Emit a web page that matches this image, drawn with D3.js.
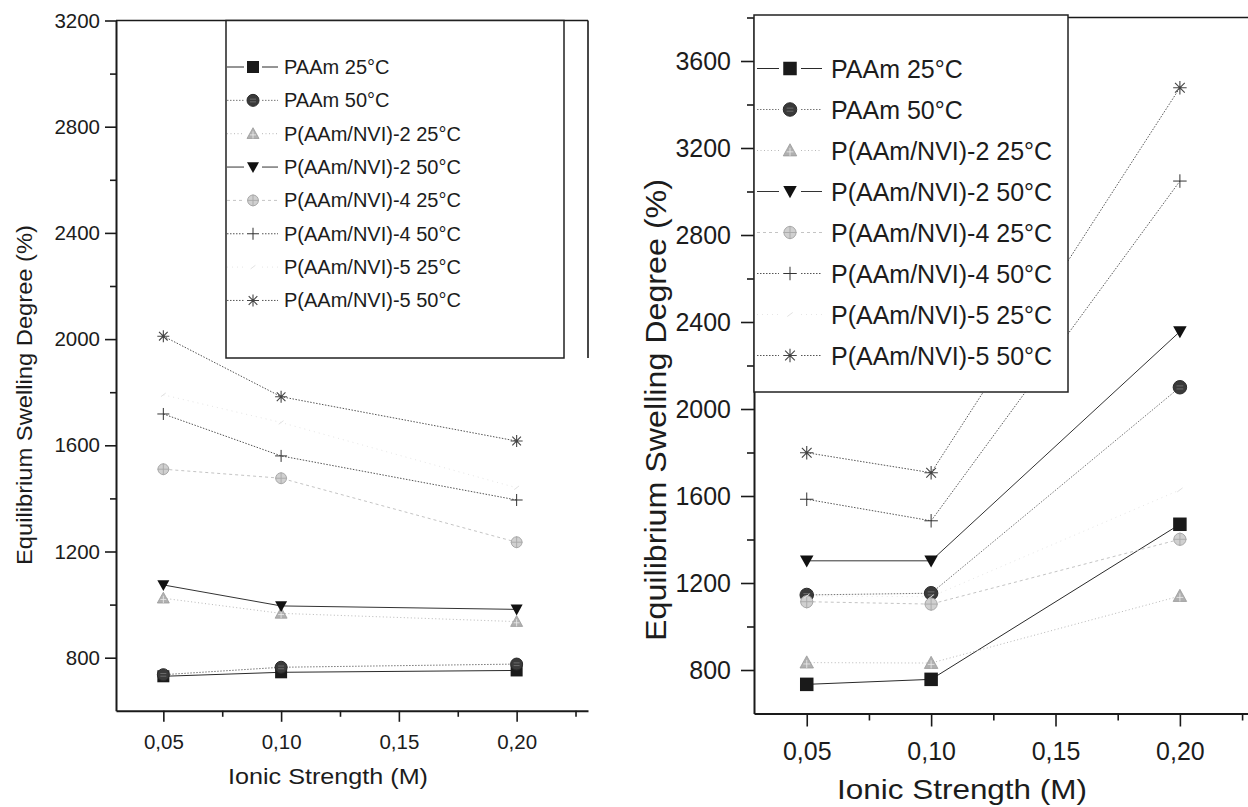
<!DOCTYPE html>
<html><head><meta charset="utf-8">
<script src="https://cdn.jsdelivr.net/npm/d3@7"></script>
<style>
body{margin:0;background:#fff}
svg{display:block}
text{font-family:"Liberation Sans",Arial,Helvetica,sans-serif;fill:#1c1c1c}
</style>
</head><body>
<svg id="chart" width="1248" height="807"></svg>
<script>
// ---------- DATA ----------
const ionicStrength = [0.05, 0.10, 0.20];
const seriesNames = ["PAAm 25°C","PAAm 50°C","P(AAm/NVI)-2 25°C","P(AAm/NVI)-2 50°C",
  "P(AAm/NVI)-4 25°C","P(AAm/NVI)-4 50°C","P(AAm/NVI)-5 25°C","P(AAm/NVI)-5 50°C"];

// left panel
const leftPAAm25 = [730, 745, 752];
const leftPAAm50 = [736, 764, 776];
const leftNVI2_25 = [1024, 967, 936];
const leftNVI2_50 = [1074, 995, 982];
const leftNVI4_25 = [1510, 1476, 1235];
const leftNVI4_50 = [1718, 1560, 1394];
const leftNVI5_25 = [1790, 1686, 1440];
const leftNVI5_50 = [2011, 1783, 1616];

// right panel
const rightPAAm25 = [734, 757, 1470];
const rightPAAm50 = [1145, 1153, 2100];
const rightNVI2_25 = [834, 832, 1140];
const rightNVI2_50 = [1302, 1302, 2356];
const rightNVI4_25 = [1114, 1103, 1401];
const rightNVI4_50 = [1585, 1486, 3048];
const rightNVI5_25 = [1140, 1137, 1628];
const rightNVI5_50 = [1799, 1707, 3477];

const xTickValues = [0.05, 0.10, 0.15, 0.20];
const xTickLabels = ["0,05", "0,10", "0,15", "0,20"];
const xMinorTicks = [0.075, 0.125, 0.175, 0.225];
const leftYTicks = [800, 1200, 1600, 2000, 2400, 2800, 3200];
const leftYMinor = [1000, 1400, 1800, 2200, 2600, 3000];
const rightYTicks = [800, 1200, 1600, 2000, 2400, 2800, 3200, 3600];
const rightYMinor = [1000, 1400, 1800, 2200, 2600, 3000, 3400, 3800];
const xTitle = "Ionic Strength (M)";
const yTitle = "Equilibrium Swelling Degree (%)";

// ---------- STYLES ----------
const markerStyles = [
  {type:"square",  fill:"#1a1a1a", stroke:"#1a1a1a"},
  {type:"circle",  fill:"#3a3a3a", stroke:"#2a2a2a"},
  {type:"triUp",   fill:"#b0b0b0", stroke:"#9a9a9a"},
  {type:"triDown", fill:"#111",    stroke:"#111"},
  {type:"diamond", fill:"#d0d0d0", stroke:"#a8a8a8"},
  {type:"plus",    fill:"none",    stroke:"#333"},
  {type:"faint",   fill:"none",    stroke:"#e2e2e2"},
  {type:"star",    fill:"none",    stroke:"#444"}
];
const lineStyles = [
  {color:"#2a2a2a", dash:null,    w:1},
  {color:"#777",    dash:"1.5,1.5", w:1},
  {color:"#b8b8b8", dash:"1,2.5", w:1},
  {color:"#333",    dash:null,    w:1},
  {color:"#c4c4c4", dash:"3,3",   w:1},
  {color:"#555",    dash:"1.5,1.5", w:1},
  {color:"#e6e6e6", dash:"1,4",   w:1},
  {color:"#555",    dash:"1.5,1.5", w:1}
];

const svg = d3.select("#chart");

function drawMarker(g, type, st, cx, cy, s) {
  const h = s/2;
  const m = g.append("g").attr("transform", `translate(${cx},${cy})`);
  if (type === "square") {
    m.append("rect").attr("x",-h).attr("y",-h).attr("width",s).attr("height",s)
      .attr("fill",st.fill);
  } else if (type === "circle") {
    m.append("circle").attr("r",h).attr("fill",st.fill).attr("stroke",st.stroke);
    m.append("path").attr("d",`M${-h*0.5},${-h*0.2}H${h*0.5}M${-h*0.5},${h*0.25}H${h*0.5}`)
      .attr("stroke","#777").attr("stroke-width",0.8);
  } else if (type === "triUp") {
    m.append("path").attr("d",`M0,${-h}L${h},${h*0.8}L${-h},${h*0.8}Z`)
      .attr("fill",st.fill).attr("stroke",st.stroke).attr("stroke-width",0.8);
    m.append("path").attr("d",`M${-h*0.5},${h*0.2}H${h*0.5}M0,${-h*0.4}V${h*0.8}`)
      .attr("stroke","#eee").attr("stroke-width",0.8);
  } else if (type === "triDown") {
    m.append("path").attr("d",`M${-h},${-h*0.8}L${h},${-h*0.8}L0,${h}Z`)
      .attr("fill",st.fill);
  } else if (type === "diamond") {
    m.append("circle").attr("r",h*0.9).attr("fill",st.fill).attr("stroke",st.stroke);
    m.append("path").attr("d",`M${-h},0H${h}M0,${-h}V${h}`)
      .attr("stroke",st.stroke).attr("stroke-width",0.9);
  } else if (type === "plus") {
    m.append("path").attr("d",`M${-h},0H${h}M0,${-h}V${h}`)
      .attr("stroke",st.stroke).attr("stroke-width",1).attr("fill","none");
  } else if (type === "faint") {
    m.append("path").attr("d",`M${-h*0.4},${h*0.3}L${h*0.4},${-h*0.3}`)
      .attr("stroke",st.stroke).attr("stroke-width",1);
  } else if (type === "star") {
    const d = h*0.72;
    m.append("path").attr("d",`M${-h},0H${h}M0,${-h}V${h}M${-d},${-d}L${d},${d}M${-d},${d}L${d},${-d}`)
      .attr("stroke",st.stroke).attr("stroke-width",1.1).attr("fill","none");
  }
}

function panel(cfg) {
  const g = svg.append("g");
  const x = d3.scaleLinear().domain(cfg.xDomain).range(cfg.xRange);
  const y = d3.scaleLinear().domain([600, cfg.yMax]).range(cfg.yRange);
  const x0 = cfg.xRange[0], x1 = cfg.xRange[1];
  const yb = cfg.yRange[0], yt = cfg.yRange[1];

  const line = d3.line().x((d,i)=>x(ionicStrength[i])).y(d=>y(d));
  cfg.series.forEach((vals, k) => {
    const ls = lineStyles[k];
    g.append("path").attr("d", line(vals)).attr("fill","none")
      .attr("stroke", ls.color).attr("stroke-width", ls.w)
      .attr("stroke-dasharray", ls.dash);
  });
  cfg.series.forEach((vals, k) => {
    vals.forEach((v,i) => drawMarker(g, markerStyles[k].type, markerStyles[k], x(ionicStrength[i]), y(v), cfg.markerSize));
  });

  const ax = g.append("g").attr("transform", `translate(0,${yb})`)
    .call(d3.axisBottom(x).tickValues(xTickValues).tickFormat((d,i)=>xTickLabels[i])
      .tickSize(cfg.majorTick).tickPadding(cfg.xTickPad).tickSizeOuter(0));
  g.append("g").attr("transform", `translate(0,${yb})`)
    .call(d3.axisBottom(x).tickValues(xMinorTicks).tickFormat("").tickSize(cfg.minorTick).tickSizeOuter(0))
    .select(".domain").remove();
  const ay = g.append("g").attr("transform", `translate(${x0},0)`)
    .call(d3.axisLeft(y).tickValues(cfg.yTicks).tickFormat(d3.format("d"))
      .tickSize(cfg.majorTick).tickPadding(cfg.yTickPad).tickSizeOuter(0));
  g.append("g").attr("transform", `translate(${x0},0)`)
    .call(d3.axisLeft(y).tickValues(cfg.yMinor).tickFormat("").tickSize(cfg.minorTick).tickSizeOuter(0))
    .select(".domain").remove();
  g.selectAll(".domain").attr("stroke","#1a1a1a").attr("stroke-width",2);
  g.selectAll(".tick line").attr("stroke","#1a1a1a").attr("stroke-width",1.6);
  ax.selectAll("text").attr("font-size", cfg.tickFont).attr("fill","#1c1c1c")
    .attr("font-family",'"Liberation Sans",Arial,sans-serif');
  ay.selectAll("text").attr("font-size", cfg.tickFont).attr("fill","#1c1c1c")
    .attr("font-family",'"Liberation Sans",Arial,sans-serif');

  g.append("line").attr("x1",x0).attr("x2",cfg.frameRight).attr("y1",yt).attr("y2",yt)
    .attr("stroke","#1a1a1a").attr("stroke-width",1.6);
  if (cfg.drawRight) {
    g.append("line").attr("x1",cfg.frameRight).attr("x2",cfg.frameRight).attr("y1",yt).attr("y2",cfg.rightBottom)
      .attr("stroke","#1a1a1a").attr("stroke-width",1.6);
  }

  g.append("text").attr("x", cfg.xTitlePos[0]).attr("y", cfg.xTitlePos[1])
    .attr("text-anchor","middle").attr("font-size", cfg.titleFont)
    .attr("textLength", cfg.xTitleLen).attr("lengthAdjust","spacingAndGlyphs").text(xTitle);
  g.append("text").attr("transform", `translate(${cfg.yTitlePos[0]},${cfg.yTitlePos[1]}) rotate(-90)`)
    .attr("text-anchor","middle").attr("font-size", cfg.yTitleFont)
    .attr("textLength", cfg.yTitleLen).attr("lengthAdjust","spacingAndGlyphs").text(yTitle);

  const L = cfg.legend;
  g.append("rect").attr("x",L.x).attr("y",L.y).attr("width",L.w).attr("height",L.h)
    .attr("fill","#fff").attr("stroke","#222").attr("stroke-width",1.5);
  seriesNames.forEach((name,k) => {
    const cy = L.row0 + k*L.rowStep;
    const ls = lineStyles[k];
    [[L.lx0, L.mx - L.gap],[L.mx + L.gap, L.lx1]].forEach(seg => {
      g.append("line").attr("x1",seg[0]).attr("x2",seg[1]).attr("y1",cy).attr("y2",cy)
        .attr("stroke",ls.color).attr("stroke-width",ls.w).attr("stroke-dasharray",ls.dash);
    });
    drawMarker(g, markerStyles[k].type, markerStyles[k], L.mx, cy, cfg.markerSize);
    g.append("text").attr("x",L.tx).attr("y",cy + L.base).attr("font-size",L.font).text(name);
  });
}

panel({
  xDomain:[0.0299, 0.2303], xRange:[116, 588],
  yMax:3200, yRange:[710.8, 20.5],
  yTicks:leftYTicks, yMinor:leftYMinor,
  series:[leftPAAm25,leftPAAm50,leftNVI2_25,leftNVI2_50,leftNVI4_25,leftNVI4_50,leftNVI5_25,leftNVI5_50],
  markerSize:12, majorTick:11, minorTick:6, xTickPad:13, yTickPad:5, tickFont:20.5,
  frameRight:588, drawRight:true, rightBottom:358,
  titleFont:22, xTitlePos:[328, 784], xTitleLen:200,
  yTitleFont:22, yTitlePos:[32, 395], yTitleLen:340,
  legend:{x:226, y:20.5, w:338, h:337.5, row0:67, rowStep:33.35, lx0:227, lx1:278, mx:253, gap:9,
          tx:284, base:7, font:20}
});

panel({
  xDomain:[0.0288, 0.2322], xRange:[754, 1260],
  yMax:3800, yRange:[713.5, 17.5],
  yTicks:rightYTicks, yMinor:rightYMinor,
  series:[rightPAAm25,rightPAAm50,rightNVI2_25,rightNVI2_50,rightNVI4_25,rightNVI4_50,rightNVI5_25,rightNVI5_50],
  markerSize:13.5, majorTick:13, minorTick:7, xTickPad:16, yTickPad:10, tickFont:25,
  frameRight:1260, drawRight:false, rightBottom:713,
  titleFont:28, xTitlePos:[962, 799], xTitleLen:250,
  yTitleFont:29, yTitlePos:[666, 410], yTitleLen:462,
  legend:{x:754, y:15, w:314, h:377, row0:68.5, rowStep:41.0, lx0:757, lx1:822, mx:790, gap:11,
          tx:831, base:9, font:25}
});
</script>
</body></html>
